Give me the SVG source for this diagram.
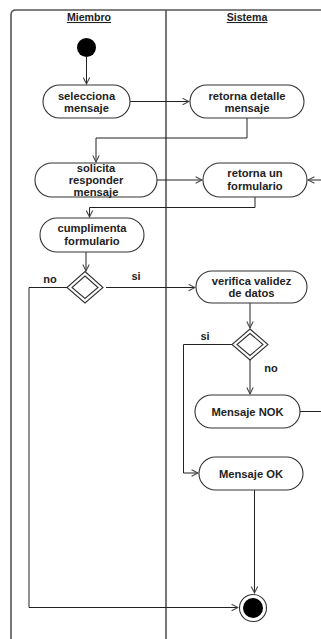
<svg xmlns="http://www.w3.org/2000/svg" width="321" height="639" viewBox="0 0 321 639">
  <defs>
    <marker id="open" viewBox="0 0 10 10" refX="9" refY="5" markerWidth="8" markerHeight="8" markerUnits="userSpaceOnUse" orient="auto">
      <path d="M1,1 L9,5 L1,9" fill="none" stroke="#444" stroke-width="1.3"/>
    </marker>
    <filter id="soft" x="-50%" y="-5%" width="200%" height="110%">
      <feGaussianBlur stdDeviation="1.5"/>
    </filter>
  </defs>
  <style>
    .frame { fill: none; stroke: #555; stroke-width: 1.6; }
    .act { fill: #fff; stroke: #333; stroke-width: 1.1; }
    .lbl { font-family: "Liberation Sans", Arial, sans-serif; font-weight: bold; font-size: 11.2px; fill: #222; text-anchor: middle; }
    .hdr { font-family: "Liberation Sans", Arial, sans-serif; font-weight: bold; font-size: 10.6px; fill: #222; text-anchor: middle; text-decoration: underline; }
    .guard { font-family: "Liberation Sans", Arial, sans-serif; font-weight: bold; font-size: 11px; fill: #222; text-anchor: middle; }
    .edge { fill: none; stroke: #222; stroke-width: 1; }
    .arr { marker-end: url(#open); }
    .dia { fill: #fff; stroke: #333; stroke-width: 1.1; }
  </style>

  <rect width="321" height="639" fill="#fff"/>

  <!-- swimlane frame -->
  <g id="lanes">
    <line x1="8.5" y1="14" x2="8.5" y2="639" stroke="#999" stroke-width="2" filter="url(#soft)"/>
    <path class="frame" d="M11,639 V15 Q11,10 16,10 H321"/>
    <line class="frame" x1="166" y1="10" x2="166" y2="639" stroke-width="1.3"/>
    <text class="hdr" x="89" y="21">Miembro</text>
    <text class="hdr" x="247" y="21">Sistema</text>
  </g>

  <!-- connectors -->
  <g id="connectors">
    <path class="edge arr" d="M86.5,57 V84"/>
    <path class="edge arr" d="M130,101.5 H189"/>
    <path class="edge arr" d="M247,118 V138 H96 V162"/>
    <path class="edge arr" d="M157,180 H202"/>
    <path class="edge arr" d="M321,180 H308"/>
    <path class="edge arr" d="M255,197 V207.5 H89.5 V217"/>
    <path class="edge arr" d="M86,252 V271"/>
    <path class="edge arr" d="M106,287.5 H195"/>
    <path class="edge arr" d="M67,287.5 H29 V607.5 H238"/>
    <path class="edge arr" d="M250,303 V328"/>
    <path class="edge arr" d="M250,360 V394"/>
    <path class="edge arr" d="M232,344.5 H183.5 V473 H198"/>
    <path class="edge" d="M300,411.5 H321"/>
    <path class="edge arr" d="M254.5,490 V593"/>
    <text class="guard" x="50" y="283">no</text>
    <text class="guard" x="136" y="280">si</text>
    <text class="guard" x="205" y="340">si</text>
    <text class="guard" x="271" y="372">no</text>
  </g>

  <!-- initial node -->
  <g id="start">
    <circle cx="86.5" cy="47.5" r="9.5" fill="#000"/>
  </g>

  <g id="selecciona">
    <rect class="act" x="43" y="85" width="87" height="33" rx="16.5"/>
    <text class="lbl" x="86.5" y="99.5">selecciona</text>
    <text class="lbl" x="86.5" y="112">mensaje</text>
  </g>

  <g id="retorna-detalle">
    <rect class="act" x="190" y="85" width="114" height="33" rx="16.5"/>
    <text class="lbl" x="247" y="99.5">retorna detalle</text>
    <text class="lbl" x="247" y="112">mensaje</text>
  </g>

  <g id="solicita">
    <rect class="act" x="35" y="163" width="122" height="34" rx="17"/>
    <text class="lbl" x="96" y="171.5">solicita</text>
    <text class="lbl" x="96" y="184">responder</text>
    <text class="lbl" x="96" y="196">mensaje</text>
  </g>

  <g id="retorna-formulario">
    <rect class="act" x="203" y="163" width="104" height="34" rx="17"/>
    <text class="lbl" x="255" y="177">retorna un</text>
    <text class="lbl" x="255" y="190">formulario</text>
  </g>

  <g id="cumplimenta">
    <rect class="act" x="40" y="218" width="104" height="34" rx="17"/>
    <text class="lbl" x="92" y="232">cumplimenta</text>
    <text class="lbl" x="92" y="245">formulario</text>
  </g>

  <g id="decision-1">
    <polygon class="dia" points="85,271.5 103,287.5 85,303 67,287.5"/>
    <polygon class="dia" points="85,276 98,287.5 85,298.5 72,287.5"/>
  </g>

  <g id="verifica">
    <rect class="act" x="196" y="271" width="111" height="32" rx="16"/>
    <text class="lbl" x="251.5" y="284.5">verifica validez</text>
    <text class="lbl" x="251.5" y="297">de datos</text>
  </g>

  <g id="decision-2">
    <polygon class="dia" points="250,329 268,344.5 250,360 232,344.5"/>
    <polygon class="dia" points="250,333.5 263,344.5 250,355.5 237,344.5"/>
  </g>

  <g id="mensaje-nok">
    <rect class="act" x="195" y="395" width="105" height="33" rx="16.5"/>
    <text class="lbl" x="247.5" y="415.5">Mensaje NOK</text>
  </g>

  <g id="mensaje-ok">
    <rect class="act" x="199" y="457" width="104" height="33" rx="16.5"/>
    <text class="lbl" x="251" y="477.5">Mensaje OK</text>
  </g>

  <!-- final node -->
  <g id="end">
    <circle cx="253" cy="608" r="13.5" fill="#fff" stroke="#333" stroke-width="1.1"/>
    <circle cx="253" cy="608" r="10" fill="#000"/>
  </g>
</svg>
